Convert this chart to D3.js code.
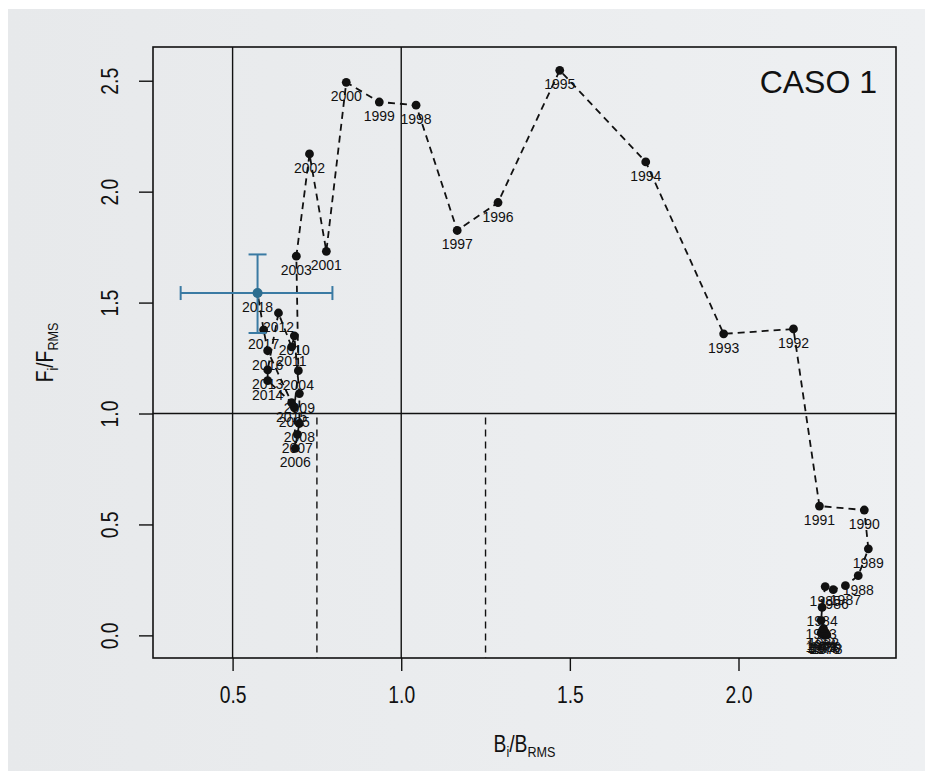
<!DOCTYPE html>
<html>
<head>
<meta charset="utf-8">
<script src="https://cdn.jsdelivr.net/npm/d3@7/dist/d3.min.js"></script>
<style>
body { margin: 0; background: #ffffff; }
text { fill: #111; }
</style>
</head>
<body>
<svg id="chart" width="925" height="771"></svg>
<script>

// trajectory, one value per year
var years = [1976, 1977, 1978, 1979, 1980, 1981, 1982, 1983, 1984, 1985,
             1986, 1987, 1988, 1989, 1990, 1991, 1992, 1993, 1994, 1995,
             1996, 1997, 1998, 1999, 2000, 2001, 2002, 2003, 2004, 2005,
             2006, 2007, 2008, 2009, 2010, 2011, 2012, 2013, 2014, 2015,
             2016, 2017, 2018]
var b_ratio = [2.255, 2.250, 2.262, 2.245, 2.258, 2.248, 2.252, 2.245, 2.248, 2.257,
               2.281, 2.317, 2.355, 2.385, 2.373, 2.240, 2.163, 1.956, 1.725, 1.470,
               1.287, 1.166, 1.044, 0.935, 0.837, 0.778, 0.728, 0.689, 0.695, 0.683,
               0.686, 0.692, 0.698, 0.698, 0.683, 0.675, 0.636, 0.604, 0.604, 0.675,
               0.604, 0.592, 0.574]
var f_ratio = [0.000, 0.005, 0.002, 0.010, 0.012, 0.020, 0.030, 0.068, 0.126, 0.220,
               0.206, 0.224, 0.269, 0.390, 0.565, 0.583, 1.381, 1.359, 2.134, 2.547,
               1.951, 1.825, 2.390, 2.404, 2.493, 1.731, 2.170, 1.709, 1.193, 1.027,
               0.843, 0.906, 0.955, 1.090, 1.350, 1.300, 1.453, 1.197, 1.148, 1.049,
               1.283, 1.377, 1.543]

// last-year estimate with its intervals
var est_point = [0.574, 1.543]
var est_b_range = [0.346, 0.796]
var est_f_range = [1.363, 1.717]

// reference lines
var solid_v = [0.5, 1.0]
var solid_h = [1.0]
var dashed_v = [0.75, 1.25]

var x_ticks = [0.5, 1.0, 1.5, 2.0]
var y_ticks = [0.0, 0.5, 1.0, 1.5, 2.0, 2.5]

var box_l = 153, box_r = 896, box_t = 47, box_b = 658
var sans = "'Liberation Sans', Arial, sans-serif"
var squeeze = 0.84

var svg = d3.select("#chart")

var grad = svg.append("defs").append("linearGradient")
  .attr("id", "bg").attr("x1", "0").attr("x2", "1").attr("y1", "0").attr("y2", "0")
grad.append("stop").attr("offset", "0").attr("stop-color", "#e7e9eb")
grad.append("stop").attr("offset", "1").attr("stop-color", "#eef0f2")

svg.append("rect")
  .attr("x", 8).attr("y", 9).attr("width", 917).attr("height", 762)
  .attr("fill", "url(#bg)")

var x = d3.scaleLinear().domain([0.264, 2.467]).range([box_l, box_r])
var y = d3.scaleLinear().domain([-0.102, 2.652]).range([box_b, box_t])

var pts = years.map(function(yr, i){ return {year: yr, b: b_ratio[i], f: f_ratio[i]} })

// reference lines
var refs = svg.append("g").attr("stroke", "#111").attr("stroke-width", 1.4)
refs.selectAll("line.v").data(solid_v).enter().append("line")
  .attr("x1", function(d){ return x(d) }).attr("x2", function(d){ return x(d) })
  .attr("y1", box_t).attr("y2", box_b)
refs.selectAll("line.h").data(solid_h).enter().append("line")
  .attr("x1", box_l).attr("x2", box_r)
  .attr("y1", function(d){ return y(d) }).attr("y2", function(d){ return y(d) })
refs.selectAll("line.d").data(dashed_v).enter().append("line")
  .attr("stroke-dasharray", "7,5")
  .attr("x1", function(d){ return x(d) }).attr("x2", function(d){ return x(d) })
  .attr("y1", y(1.0) + 4).attr("y2", box_b)

// dashed trajectory
var line = d3.line().x(function(d){ return x(d.b) }).y(function(d){ return y(d.f) })
svg.append("path")
  .datum(pts)
  .attr("fill", "none")
  .attr("stroke", "#111")
  .attr("stroke-width", 1.8)
  .attr("stroke-dasharray", "7,5")
  .attr("d", line)

svg.append("g").selectAll("circle").data(pts).enter().append("circle")
  .attr("cx", function(d){ return x(d.b) })
  .attr("cy", function(d){ return y(d.f) })
  .attr("r", 4.4)
  .attr("fill", "#111")

// estimate error bars
var blue = svg.append("g").attr("stroke", "#3a7aa3").attr("stroke-width", 2)
blue.append("line")
  .attr("x1", x(est_b_range[0])).attr("x2", x(est_b_range[1]))
  .attr("y1", y(est_point[1])).attr("y2", y(est_point[1]))
blue.append("line")
  .attr("x1", x(est_point[0])).attr("x2", x(est_point[0]))
  .attr("y1", y(est_f_range[0])).attr("y2", y(est_f_range[1]))
blue.selectAll("line.cx").data(est_b_range).enter().append("line")
  .attr("x1", function(d){ return x(d) }).attr("x2", function(d){ return x(d) })
  .attr("y1", y(est_point[1]) - 7).attr("y2", y(est_point[1]) + 7)
blue.selectAll("line.cy").data(est_f_range).enter().append("line")
  .attr("x1", x(est_point[0]) - 9).attr("x2", x(est_point[0]) + 9)
  .attr("y1", function(d){ return y(d) }).attr("y2", function(d){ return y(d) })
svg.append("circle")
  .attr("cx", x(est_point[0])).attr("cy", y(est_point[1]))
  .attr("r", 5).attr("fill", "#2c6d8f")

// year labels, below each point
svg.append("g").selectAll("text").data(pts).enter().append("text")
  .attr("x", function(d){ return x(d.b) })
  .attr("y", function(d){ return y(d.f) + 19 })
  .attr("text-anchor", "middle")
  .style("font-family", sans)
  .style("font-size", "14px")
  .text(function(d){ return d.year })

// box
svg.append("rect")
  .attr("x", box_l).attr("y", box_t).attr("width", box_r - box_l).attr("height", box_b - box_t)
  .attr("fill", "none").attr("stroke", "#111").attr("stroke-width", 1.6)

// axes
var xa = svg.append("g").attr("transform", "translate(0," + box_b + ")")
  .call(d3.axisBottom(x).tickValues(x_ticks).tickFormat(d3.format(".1f")).tickSize(13))
xa.select(".domain").remove()
xa.selectAll("line").attr("stroke", "#111").attr("stroke-width", 1.4)
xa.selectAll("text")
  .attr("y", null).attr("dy", null)
  .attr("transform", "translate(0,45) scale(" + squeeze + ",1)")
  .style("font-family", sans).style("font-size", "23px").attr("fill", "#111")

var ya = svg.append("g").attr("transform", "translate(" + box_l + ",0)")
  .call(d3.axisLeft(y).tickValues(y_ticks).tickFormat(d3.format(".1f")).tickSize(14))
ya.select(".domain").remove()
ya.selectAll("line").attr("stroke", "#111").attr("stroke-width", 1.4)
ya.selectAll("text")
  .attr("x", null).attr("dy", null)
  .attr("text-anchor", "middle")
  .attr("transform", "translate(-35,0) rotate(-90) scale(" + squeeze + ",1)")
  .style("font-family", sans).style("font-size", "23px").attr("fill", "#111")

// axis titles
var xt = svg.append("text")
  .attr("transform", "translate(" + (box_l + box_r) / 2 + ",752) scale(" + squeeze + ",1)")
  .attr("text-anchor", "middle")
  .style("font-family", sans).style("font-size", "23px")
xt.append("tspan").text("B")
xt.append("tspan").attr("dy", 5).style("font-size", "15px").text("i")
xt.append("tspan").attr("dy", -5).text("/B")
xt.append("tspan").attr("dy", 5).style("font-size", "15px").text("RMS")

var yt = svg.append("text")
  .attr("transform", "translate(53," + (box_t + box_b) / 2 + ") rotate(-90) scale(" + squeeze + ",1)")
  .attr("text-anchor", "middle")
  .style("font-family", sans).style("font-size", "23px")
yt.append("tspan").text("F")
yt.append("tspan").attr("dy", 5).style("font-size", "15px").text("i")
yt.append("tspan").attr("dy", -5).text("/F")
yt.append("tspan").attr("dy", 5).style("font-size", "15px").text("RMS")

svg.append("text")
  .attr("x", 877).attr("y", 93)
  .attr("text-anchor", "end")
  .style("font-family", sans)
  .style("font-size", "32px")
  .text("CASO 1")

</script>
</body>
</html>
